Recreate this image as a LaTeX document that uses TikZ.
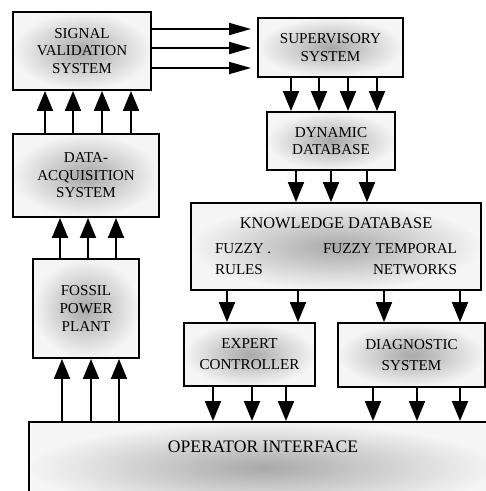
\documentclass[tikz,border=0pt]{standalone}
\usepackage{fontspec}
\setmainfont{Liberation Serif}
\usepackage{tikz}
\usetikzlibrary{positioning,shapes,arrows.meta}
\tikzstyle{block} = [rectangle, minimum width=2.8cm, minimum height=1.2cm, text centered, align=center, draw=black, line width=1.1pt, inner color=black!34, outer color=black!4, font=\fontsize{8.6}{10}\selectfont]
\tikzstyle{arrow} = [line width=1.1pt,->,>={Triangle[length=0.4cm,width=0.32cm]}]
\tikzstyle{harrow} = [line width=1.1pt,->,>={Triangle[length=0.44cm,width=0.24cm]}, shorten >=0.12cm]

\begin{document}
\begin{tikzpicture}[x=0.02cm, y=-0.02cm]
\useasboundingbox (0,0) rectangle (486,491);

\node (sv) [block, minimum width=2.76cm, minimum height=1.56cm] at (82,51) {SIGNAL\\VALIDATION\\SYSTEM};
\node (sup) [block, minimum width=2.9cm, minimum height=1.18cm] at (330.5,47.5) {SUPERVISORY\\SYSTEM};
\node (ddb) [block, minimum width=2.56cm, minimum height=1.16cm] at (331,141) {DYNAMIC\\DATABASE};
\node (daq) [block, minimum width=2.92cm, minimum height=1.66cm] at (86,175.5) {DATA-\\ACQUISITION\\SYSTEM};
\node (kd) [block, minimum width=5.8cm, minimum height=1.74cm] at (336,246.5) {{\fontsize{9.3}{10}\selectfont KNOWLEDGE DATABASE}\\[4pt]
  \makebox[4.84cm]{FUZZY .\hfill FUZZY TEMPORAL}\\[2pt]
  \makebox[4.84cm]{RULES\hfill NETWORKS}};
\node (fpp) [block, minimum width=2.12cm, minimum height=1.98cm] at (86,308.5) {FOSSIL\\POWER\\PLANT};
\node (exp) [block, minimum width=2.62cm, minimum height=1.26cm] at (249.5,354.5) {EXPERT\\[2pt]CONTROLLER};
\node (diag) [block, minimum width=2.94cm, minimum height=1.28cm] at (411.5,355) {DIAGNOSTIC\\[2pt]SYSTEM};
\node (op) [block, anchor=north west, minimum width=9.36cm, text height=0.62cm, text depth=1.2cm, inner sep=0pt, font=\fontsize{10}{12}\selectfont] at (28,421) {OPERATOR INTERFACE};

\draw [harrow] (sv.east |- 0,29) -- (sup.west |- 0,29);
\draw [harrow] (sv.east |- 0,48) -- (sup.west |- 0,48);
\draw [harrow] (sv.east |- 0,68) -- (sup.west |- 0,68);

\draw [arrow] (45,0 |- daq.north) -- (45,0 |- sv.south);
\draw [arrow] (73,0 |- daq.north) -- (73,0 |- sv.south);
\draw [arrow] (102,0 |- daq.north) -- (102,0 |- sv.south);
\draw [arrow] (131,0 |- daq.north) -- (131,0 |- sv.south);

\draw [arrow] (60,0 |- fpp.north) -- (60,0 |- daq.south);
\draw [arrow] (88,0 |- fpp.north) -- (88,0 |- daq.south);
\draw [arrow] (116,0 |- fpp.north) -- (116,0 |- daq.south);

\draw [arrow] (62,0 |- op.north) -- (62,0 |- fpp.south);
\draw [arrow] (91,0 |- op.north) -- (91,0 |- fpp.south);
\draw [arrow] (119,0 |- op.north) -- (119,0 |- fpp.south);

\draw [arrow] (291,0 |- sup.south) -- (291,0 |- ddb.north);
\draw [arrow] (319,0 |- sup.south) -- (319,0 |- ddb.north);
\draw [arrow] (348,0 |- sup.south) -- (348,0 |- ddb.north);
\draw [arrow] (377,0 |- sup.south) -- (377,0 |- ddb.north);

\draw [arrow] (296,0 |- ddb.south) -- (296,0 |- kd.north);
\draw [arrow] (331,0 |- ddb.south) -- (331,0 |- kd.north);
\draw [arrow] (367,0 |- ddb.south) -- (367,0 |- kd.north);

\draw [arrow] (227,0 |- kd.south) -- (227,0 |- exp.north);
\draw [arrow] (298,0 |- kd.south) -- (298,0 |- exp.north);
\draw [arrow] (384,0 |- kd.south) -- (384,0 |- diag.north);
\draw [arrow] (460,0 |- kd.south) -- (460,0 |- diag.north);

\draw [arrow] (213,0 |- exp.south) -- (213,0 |- op.north);
\draw [arrow] (252,0 |- exp.south) -- (252,0 |- op.north);
\draw [arrow] (286,0 |- exp.south) -- (286,0 |- op.north);
\draw [arrow] (373,0 |- diag.south) -- (373,0 |- op.north);
\draw [arrow] (417,0 |- diag.south) -- (417,0 |- op.north);
\draw [arrow] (460,0 |- diag.south) -- (460,0 |- op.north);
\end{tikzpicture}
\end{document}
